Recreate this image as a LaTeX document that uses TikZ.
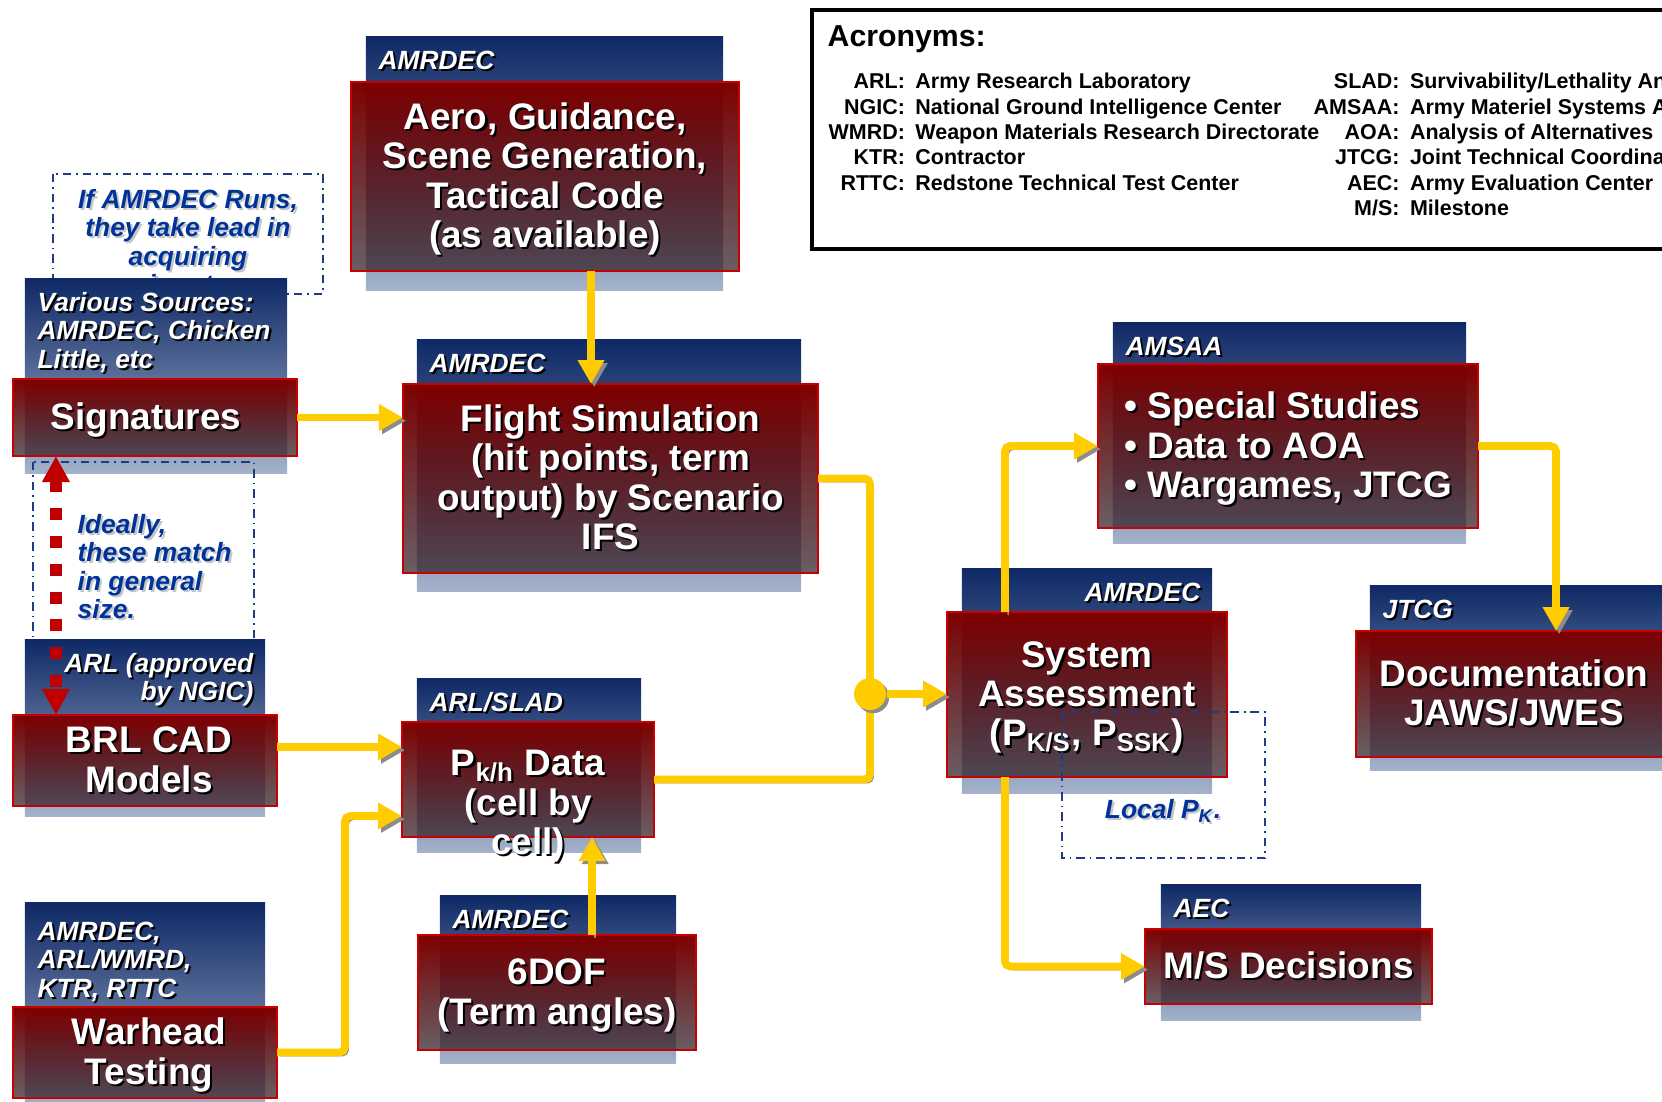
\documentclass[tikz,border=0pt]{standalone}
\usepackage{fontspec}
\setmainfont{Liberation Sans}
\usetikzlibrary{arrows.meta,fadings}

\definecolor{orgtop}{RGB}{14,41,102}
\definecolor{orgbot}{RGB}{164,178,202}
\definecolor{tasktop}{RGB}{128,0,0}
\definecolor{taskbot}{RGB}{55,40,48}
\definecolor{taskline}{RGB}{200,0,0}
\definecolor{flowyellow}{RGB}{255,204,0}
\definecolor{flowshade}{RGB}{140,140,140}
\definecolor{notecol}{RGB}{0,51,153}
\definecolor{noteline}{RGB}{30,60,130}
\definecolor{matchred}{RGB}{192,0,0}

\tikzfading[name=taskfade, top color=transparent!0, bottom color=transparent!25]

\newcommand\taskfont{\fontsize{10.5}{11.2}\selectfont\bfseries}
\newcommand\orgfont{\fontsize{7.5}{8.1}\selectfont\bfseries\itshape}
\newcommand\acrfont{\fontsize{6.1}{7.2}\selectfont\bfseries}

% text with a drop shadow: [column] {shadow colour} {lines}
\newcommand\shadowed[3][c]{%
  \raisebox{-.14em}[\height][\depth]{%
    \rlap{\kern.6pt\raisebox{-.6pt}{\color{#2}\begin{tabular}{@{}#1@{}}#3\end{tabular}}}%
    \begin{tabular}{@{}#1@{}}#3\end{tabular}}}

\tikzset{
  orgbox/.style={top color=orgtop, bottom color=orgbot, inner sep=0pt, outer sep=0pt},
  taskbox/.style={draw=taskline, line width=.6pt, inner sep=0pt, outer sep=0pt,
    preaction={top color=tasktop, bottom color=taskbot, path fading=taskfade},
    text=white, font=\taskfont},
  orgname/.style={anchor=north west, xshift=.12cm, yshift=-.08cm, inner sep=0pt,
    text=white, font=\orgfont},
  orgnamer/.style={anchor=north east, xshift=-.11cm, yshift=-.08cm, inner sep=0pt,
    text=white, font=\orgfont},
  notetext/.style={inner sep=0pt, text=notecol, font=\orgfont},
  notebox/.style={draw=noteline, line width=.5pt,
    dash pattern=on 2.4pt off 1.4pt on .5pt off 1.4pt},
  wire/.style={draw=flowyellow, line width=2.2pt, rounded corners=1.5pt,
    preaction={draw=flowshade, transform canvas={shift={(.9pt,-.9pt)}}}},
  flowarrow/.style={wire, -{Triangle[width=7.2pt,length=6.8pt]}},
  matchline/.style={draw=matchred, line width=3.6pt, dash pattern=on 3.4pt off 4.5pt,
    {Triangle[width=7.4pt,length=7.4pt]}-{Triangle[width=7.4pt,length=7.4pt]}},
}

\begin{document}
\begin{tikzpicture}[x=0.01cm, y=-0.01cm]
\useasboundingbox (0,0) rectangle (1662,1102);

% inputs
\draw[notebox] (53,174) rectangle (323,294);
\node[notetext] (leadnote) at (188,242.5) {\shadowed{gray!45}{If AMRDEC Runs,\\they take lead in\\acquiring\\inputs}};

\node[orgbox, minimum width=2.62cm, minimum height=1.94cm,
  label={[orgname]north west:{\shadowed[l]{black}{Various Sources:\\AMRDEC, Chicken\\Little, etc}}}] (sigorg) at (156,376) {};
\node[taskbox, minimum width=2.84cm, minimum height=0.77cm] (sig) at (155,417.5) {\hspace{-.18cm}\shadowed{black}{Signatures}};

\draw[notebox] (33,462) rectangle (254,660);
\node[notetext, anchor=west] (sizenote) at (77,567.5) {\shadowed[l]{gray!45}{Ideally,\\these match\\in general\\size.}};

\node[orgbox, minimum width=2.40cm, minimum height=1.76cm,
  label={[orgnamer]north east:{\shadowed[r]{black}{ARL (approved\\by NGIC)}}}] (brlorg) at (145,728) {};
\node[taskbox, minimum width=2.64cm, minimum height=0.91cm] (brl) at (145,760.5) {\hspace{.08cm}\shadowed{black}{BRL CAD\\Models}};

\node[orgbox, minimum width=2.40cm, minimum height=2.05cm,
  label={[orgname, yshift=-.05cm]north west:{\shadowed[l]{black}{AMRDEC,\\ARL/WMRD,\\KTR, RTTC}}}] (warorg) at (145,1005.5) {};
\node[taskbox, minimum width=2.64cm, minimum height=0.91cm] (war) at (145,1052.5) {\hspace{.08cm}\shadowed{black}{Warhead\\Testing}};

% simulation chain
\node[orgbox, minimum width=3.57cm, minimum height=2.53cm,
  label={[orgname]north west:{\shadowed{black}{AMRDEC}}}] (aeroorg) at (544.5,163.5) {};
\node[taskbox, minimum width=3.88cm, minimum height=1.89cm] (aero) at (545,176.5) {\shadowed{black}{Aero, Guidance,\\Scene Generation,\\Tactical Code\\(as available)}};

\node[orgbox, minimum width=3.84cm, minimum height=2.51cm,
  label={[orgname]north west:{\shadowed{black}{AMRDEC}}}] (flightorg) at (609,465.5) {};
\node[taskbox, minimum width=4.15cm, minimum height=1.89cm] (flight) at (610.5,478.5) {\shadowed{black}{Flight Simulation\\(hit points, term\\output) by Scenario\\IFS}};

\node[orgbox, minimum width=2.24cm, minimum height=1.73cm,
  label={[orgname]north west:{\shadowed{black}{ARL/SLAD}}}] (pkorg) at (529,765.5) {};
\node[taskbox, minimum width=2.52cm, minimum height=1.15cm] (pk) at (528,779.5) {};

\node[orgbox, minimum width=2.36cm, minimum height=1.67cm,
  label={[orgname]north west:{\shadowed{black}{AMRDEC}}}] (doforg) at (558,979.5) {};
\node[taskbox, minimum width=2.78cm, minimum height=1.15cm] (dof) at (557,992.5) {\shadowed{black}{6DOF\\(Term angles)}};

% assessment and outputs
\node[orgbox, minimum width=2.50cm, minimum height=2.24cm,
  label={[orgnamer]north east:{\shadowed{black}{AMRDEC}}}] (sysorg) at (1087,681) {};
\node[taskbox, minimum width=2.80cm, minimum height=1.65cm] (sys) at (1087,694.5) {\shadowed{black}{System\\Assessment\\(P\textsubscript{K/S}, P\textsubscript{SSK})}};

\draw[notebox] (1062,712) rectangle (1265,858);
\node[notetext] (pknote) at (1163,810) {\shadowed{gray!45}{Local P\textsubscript{K}.}};

\node[orgbox, minimum width=3.53cm, minimum height=2.20cm,
  label={[orgname]north west:{\shadowed{black}{AMSAA}}}] (amsaaorg) at (1289.5,433) {};
\node[taskbox, minimum width=3.80cm, minimum height=1.64cm] (amsaa) at (1288,446) {\shadowed[l]{black}{\textbullet\ Special Studies\\\textbullet\ Data to AOA\\\textbullet\ Wargames, JTCG}};

\node[orgbox, minimum width=2.92cm, minimum height=1.84cm,
  label={[orgname]north west:{\shadowed{black}{JTCG}}}] (jtcgorg) at (1516,678) {};
\node[taskbox, minimum width=3.16cm, minimum height=1.26cm] (jtcg) at (1514,694) {\shadowed{black}{Documentation\\JAWS/JWES}};

\node[orgbox, minimum width=2.60cm, minimum height=1.35cm,
  label={[orgname]north west:{\shadowed{black}{AEC}}}] (msorg) at (1291,952.5) {};
\node[taskbox, minimum width=2.87cm, minimum height=0.75cm] (ms) at (1288.5,966.5) {\shadowed{black}{M/S Decisions}};

% acronym legend
\draw[line width=.9pt] (812,10) rectangle (1680,249);
\node[anchor=base west, inner sep=0pt, font=\fontsize{8.6}{10}\selectfont\bfseries] (acrtitle) at (827,46) {Acronyms:};
\begin{scope}
\clip (812,10) rectangle (1662,249);
\node[anchor=north west, inner sep=0pt, font=\acrfont] (acrleft) at (828,70.5) {\begin{tabular}{@{}r@{\hspace{3pt}}l@{}}
  ARL: & Army Research Laboratory\\
  NGIC: & National Ground Intelligence Center\\
  WMRD: & Weapon Materials Research Directorate\\
  KTR: & Contractor\\
  RTTC: & Redstone Technical Test Center
  \end{tabular}};
\node[anchor=north west, inner sep=0pt, font=\acrfont] (acrright) at (1313,70.5) {\begin{tabular}{@{}r@{\hspace{3pt}}l@{}}
  SLAD: & Survivability/Lethality Ana\\
  AMSAA: & Army Materiel Systems A\\
  AOA: & Analysis of Alternatives\\
  JTCG: & Joint Technical Coordina\\
  AEC: & Army Evaluation Center\\
  M/S: & Milestone
  \end{tabular}};
\end{scope}

% connectors
\coordinate (aeroout) at ([xshift=.46cm]aero.south);
\draw[flowarrow] (aeroout) -- (aeroout |- flight.north);
\draw[flowarrow] (sig.east) -- (sig.east -| flight.west);
\coordinate (brlout) at ([yshift=.135cm]brl.east);
\draw[flowarrow] (brlout) -- (brlout -| pk.west);
\coordinate (pkin) at ([yshift=-.365cm]pk.west);
\draw[flowarrow] (war.east) -| ([xshift=-.57cm]pkin) -- (pkin);
\coordinate (dofout) at ([xshift=.35cm]dof.north);
\draw[flowarrow] (dofout) -- (dofout |- pk.south);

\coordinate (joinpt) at (870,694);
\draw[wire] (flight.east) -| (joinpt);
\draw[wire] (pk.east) -| (joinpt);
\node[circle, fill=flowyellow, minimum size=.32cm, inner sep=0pt,
  preaction={fill=flowshade, transform canvas={shift={(.9pt,-.9pt)}}}] (join) at (joinpt) {};
\draw[flowarrow] (join) -- (join -| sys.west);

\coordinate (sysup) at ([xshift=-.82cm]sys.north);
\draw[flowarrow] (sysup) |- (amsaa.west);
\coordinate (sysdown) at ([xshift=-.82cm]sys.south);
\draw[flowarrow] (sysdown) |- (ms.west);
\draw[flowarrow] (amsaa.east) -| ([xshift=.42cm]jtcg.north);

\coordinate (sigfoot) at ([xshift=-.99cm]sig.south);
\draw[matchline] (sigfoot) -- (sigfoot |- brl.north);

\node[text=white, font=\taskfont, inner sep=0pt] (pktext) at (528,803) {\shadowed{black}{P\textsubscript{k/h} Data\\(cell by\\cell)}};
\end{tikzpicture}
\end{document}
